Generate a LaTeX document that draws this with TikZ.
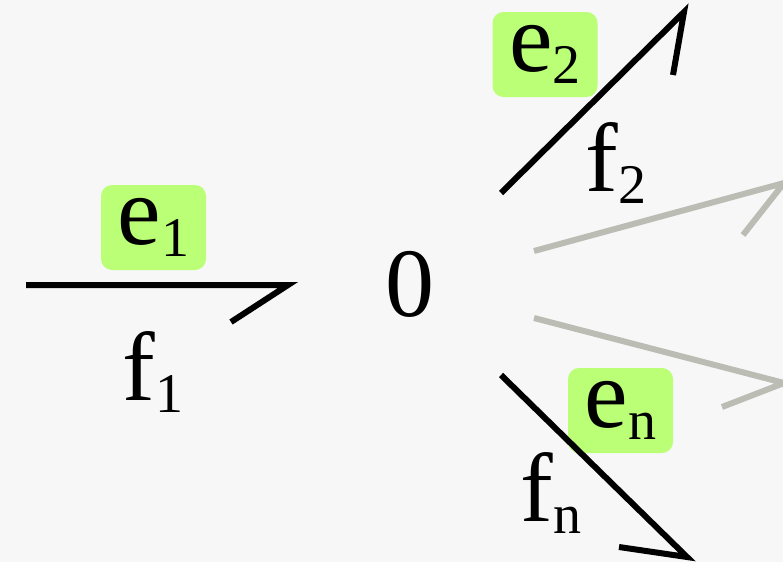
\documentclass[tikz,border=0pt]{standalone}
\usepackage{fontspec}
\setmainfont{Liberation Serif}
\begin{document}
\definecolor{bgc}{HTML}{F7F7F7}
\definecolor{effort}{HTML}{BBFF77}
\definecolor{grayb}{HTML}{BBBDB5}
\begin{tikzpicture}[x=1pt,y=-1pt,
  bond/.style={line width=6pt,black},
  ghost/.style={line width=6pt,grayb},
  lbl/.style={inner sep=0pt,font=\fontsize{98}{110}\selectfont},
  eff/.style={lbl,fill=effort,rounded corners=11pt,minimum width=105pt,minimum height=85pt}]
\fill[bgc] (0,0) rectangle (783,562);
\useasboundingbox (0,0) rectangle (783,562);
\newcommand{\sbx}[1]{\raisebox{-0.13em}{\fontsize{56}{60}\selectfont #1}}
% coordinates
\coordinate (b1s) at (26,285);
\coordinate (b1t) at (288,285);
\coordinate (b1h) at (231,322);
\coordinate (b2s) at (501,193);
\coordinate (b2t) at (684,12);
\coordinate (b2h) at (673,75);
\coordinate (gas) at (534,251);
\coordinate (gat) at (784,183);
\coordinate (gah) at (743,235);
\coordinate (gbs) at (534,318);
\coordinate (gbt) at (784,383);
\coordinate (gbh) at (722,407);
\coordinate (bns) at (501,375);
\coordinate (bnt) at (687,557);
\coordinate (bnh) at (619,547);
% bonds
\draw[ghost] (gas) -- (gat) -- (gah);
\draw[ghost] (gbs) -- (gbt) -- (gbh);
\draw[bond] (b1s) -- (b1t) -- (b1h);
\draw[bond] (b2s) -- (b2t) -- (b2h);
% labels
\node[eff] (e1) at (153.5,227.5) {e\sbx{1}};
\node[lbl] (f1) at (153,372) {f\sbx{1}};
\node[lbl] (zero) at (410,284) {0};
\node[eff] (e2) at (545,54.5) {e\sbx{2}};
\node[lbl] (f2) at (616,163) {f\sbx{2}};
\node[eff] (en) at (620.5,410.5) {e\sbx{n}};
\node[lbl] (fn) at (551,493) {f\sbx{n}};
\draw[bond] (bns) -- (bnt) -- (bnh);
\end{tikzpicture}
\end{document}
